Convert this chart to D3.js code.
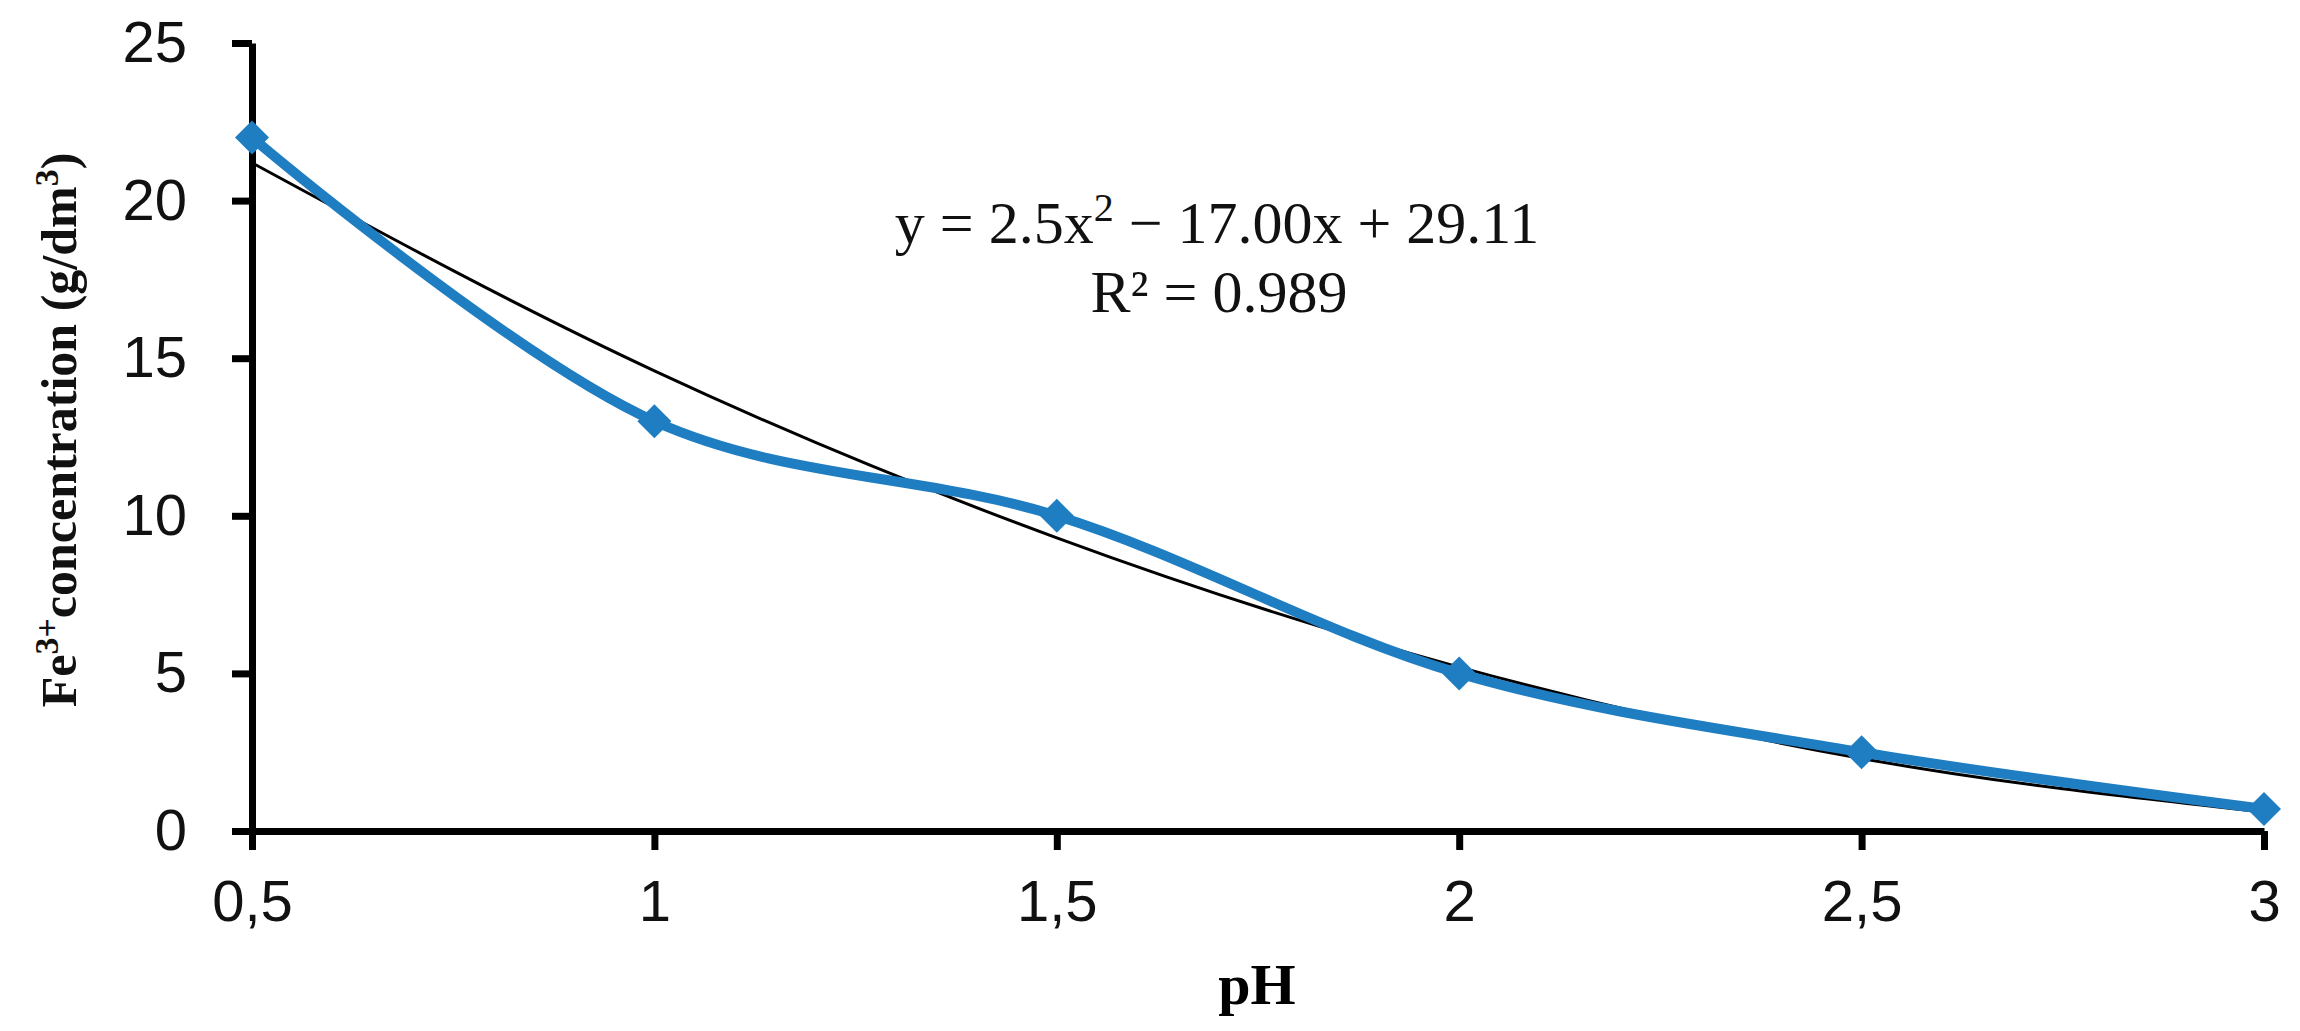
<!DOCTYPE html>
<html>
<head>
<meta charset="utf-8">
<script src="https://cdn.jsdelivr.net/npm/d3@7"></script>
<style>
body { margin: 0; background: #fff; }
</style>
</head>
<body>
<script>
// data
var phValues = [0.5, 1, 1.5, 2, 2.5, 3];
var feConc = [22, 13, 10, 5, 2.5, 0.7];
var trendValues = [21.2, 14.6, 9.3, 5.2, 2.3, 0.6];
var xTickLabels = ["0,5", "1", "1,5", "2", "2,5", "3"];
var yTicks = [0, 5, 10, 15, 20, 25];

var width = 2300, height = 1031;
var plotLeft = 252, plotRight = 2264, plotTop = 43, plotBottom = 831;

var svg = d3.select("body").append("svg")
    .attr("width", width)
    .attr("height", height);

var x = d3.scaleLinear().domain([0.5, 3]).range([plotLeft, plotRight]);
var y = d3.scaleLinear().domain([0, 25]).range([plotBottom, plotTop]);

// axes
var yAxis = svg.append("g")
    .attr("transform", "translate(" + plotLeft + ",0)")
    .call(d3.axisLeft(y).tickValues(yTicks).tickSize(20).tickSizeOuter(0));
var xAxis = svg.append("g")
    .attr("transform", "translate(0," + plotBottom + ")")
    .call(d3.axisBottom(x).tickValues(phValues).tickSize(19).tickSizeOuter(0).tickPadding(30)
        .tickFormat(function(d, i) { return xTickLabels[i]; }));

svg.selectAll(".domain, .tick line").attr("stroke", "#000").attr("stroke-width", 7);
svg.selectAll(".tick text")
    .attr("font-family", "Liberation Sans Narrow, Liberation Sans, sans-serif")
    .attr("font-size", 58)
    .attr("fill", "#111");
yAxis.selectAll(".tick text").attr("dy", "0.32em").attr("text-anchor", "end").attr("x", -65);

// trend line (thin black)
svg.append("path")
    .datum(phValues)
    .attr("fill", "none")
    .attr("stroke", "#000")
    .attr("stroke-width", 3)
    .attr("d", d3.line()
        .x(function(d) { return x(d); })
        .y(function(d, i) { return y(trendValues[i]); })
        .curve(d3.curveMonotoneX));

// data line (smoothed)
svg.append("path")
    .datum(phValues)
    .attr("fill", "none")
    .attr("stroke", "#1f7dc2")
    .attr("stroke-width", 10)
    .attr("d", d3.line()
        .x(function(d) { return x(d); })
        .y(function(d, i) { return y(feConc[i]); })
        .curve(d3.curveCatmullRom.alpha(0.5)));

// diamond markers
svg.append("g").selectAll("path")
    .data(phValues)
    .enter()
    .append("path")
    .attr("transform", function(d, i) { return "translate(" + x(d) + "," + y(feConc[i]) + ")"; })
    .attr("d", "M0,-17L17,0L0,17L-17,0Z")
    .attr("fill", "#1f7dc2");

// equation
var eq = svg.append("text")
    .attr("x", 1217).attr("y", 243)
    .attr("text-anchor", "middle")
    .attr("font-family", "Liberation Serif, serif")
    .attr("font-size", 60)
    .attr("fill", "#111");
eq.append("tspan").text("y = 2.5x");
eq.append("tspan").attr("dy", -22).attr("font-size", 40).text("2");
eq.append("tspan").attr("dy", 22).text(" − 17.00x + 29.11");

svg.append("text")
    .attr("x", 1219).attr("y", 312)
    .attr("text-anchor", "middle")
    .attr("font-family", "Liberation Serif, serif")
    .attr("font-size", 60)
    .attr("fill", "#111")
    .text("R² = 0.989");

// axis titles
svg.append("text")
    .attr("x", 1257).attr("y", 1004)
    .attr("text-anchor", "middle")
    .attr("font-family", "Liberation Serif, serif")
    .attr("font-weight", "bold")
    .attr("font-size", 58)
    .text("pH");

var yt = svg.append("text")
    .attr("transform", "translate(76,430) rotate(-90)")
    .attr("text-anchor", "middle")
    .attr("font-family", "Liberation Serif, serif")
    .attr("font-weight", "bold")
    .attr("font-size", 50)
    .attr("fill", "#111");
yt.append("tspan").text("Fe");
yt.append("tspan").attr("dy", -18).attr("font-size", 34).text("3+");
yt.append("tspan").attr("dy", 18).text("concentration (g/dm");
yt.append("tspan").attr("dy", -18).attr("font-size", 34).text("3");
yt.append("tspan").attr("dy", 18).text(")");
</script>
</body>
</html>
